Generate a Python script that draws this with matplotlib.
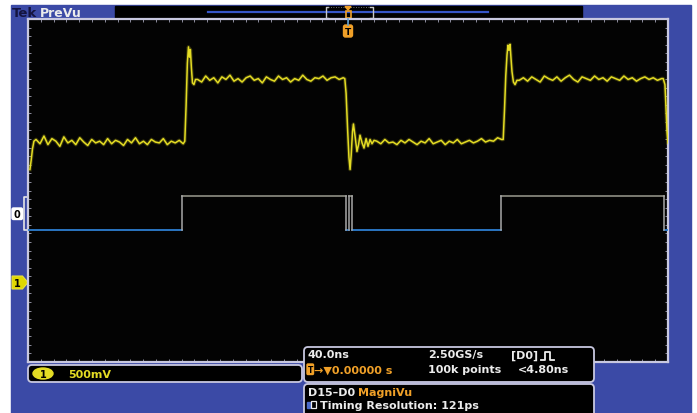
import numpy as np
import matplotlib
matplotlib.use("Agg")
import matplotlib.pyplot as plt
from matplotlib.patches import Rectangle, FancyBboxPatch, Polygon, Ellipse

# ---------------- data ----------------
# Channel 1 analog trace (time in ns, voltage in V)
ch1_start_t = [-198.8, -198.0, -197.2, -196.3]
ch1_start_v = [1.31, 1.42, 1.55, 1.64]
ch1_low1_span = (-195.0, -103.0)
ch1_low1_v = [1.66, 1.61, 1.70, 1.60, 1.67, 1.64, 1.58, 1.69, 1.62, 1.65, 1.60, 1.68, 1.63,
              1.59, 1.66, 1.62, 1.64, 1.60, 1.67, 1.61, 1.65, 1.63, 1.59, 1.66, 1.62, 1.68,
              1.61, 1.64, 1.60, 1.66, 1.63, 1.62, 1.67, 1.60, 1.64, 1.62, 1.65, 1.61]
ch1_rise1_t = [-102.0, -101.2, -100.4, -99.7, -99.1, -98.5, -97.9, -97.2, -96.3, -95.3]
ch1_rise1_v = [1.64, 2.05, 2.55, 2.74, 2.62, 2.71, 2.50, 2.32, 2.30, 2.36]
ch1_high1_span = (-94.0, -3.0)
ch1_high1_v = [2.36, 2.33, 2.40, 2.35, 2.38, 2.32, 2.39, 2.36, 2.41, 2.34, 2.37, 2.33, 2.38,
               2.40, 2.35, 2.37, 2.32, 2.39, 2.36, 2.34, 2.40, 2.36, 2.38, 2.33, 2.37, 2.35,
               2.41, 2.36, 2.34, 2.38, 2.37, 2.40, 2.35, 2.38, 2.39, 2.36, 2.38]
ch1_fall1_t = [-2.0, -1.2, -0.3, 0.6, 1.3, 2.0, 2.8, 3.4, 4.4, 5.6, 6.6, 7.5, 8.8, 10.0,
               11.3, 12.5, 13.8, 15.0, 16.3]
ch1_fall1_v = [2.37, 2.20, 1.80, 1.45, 1.31, 1.48, 1.75, 1.84, 1.70, 1.52, 1.60, 1.71, 1.62,
               1.56, 1.67, 1.58, 1.66, 1.61, 1.65]
ch1_low2_span = (18.0, 96.0)
ch1_low2_v = [1.64, 1.61, 1.66, 1.62, 1.63, 1.60, 1.65, 1.62, 1.66, 1.63, 1.60, 1.64, 1.62,
              1.67, 1.61, 1.63, 1.65, 1.60, 1.64, 1.62, 1.66, 1.61, 1.63, 1.65, 1.62, 1.64,
              1.67, 1.63, 1.65, 1.64, 1.68, 1.66]
ch1_rise2_t = [97.0, 97.8, 98.6, 99.4, 100.0, 100.6, 101.3, 101.9, 102.5, 103.4, 104.4, 105.6]
ch1_rise2_v = [1.66, 2.00, 2.40, 2.65, 2.76, 2.70, 2.77, 2.60, 2.45, 2.33, 2.30, 2.35]
ch1_high2_span = (107.0, 196.0)
ch1_high2_v = [2.35, 2.38, 2.34, 2.39, 2.36, 2.33, 2.40, 2.37, 2.35, 2.39, 2.34, 2.38, 2.41,
               2.36, 2.33, 2.39, 2.37, 2.35, 2.40, 2.36, 2.38, 2.34, 2.39, 2.37, 2.35, 2.40,
               2.36, 2.38, 2.34, 2.37, 2.39, 2.36, 2.38, 2.35, 2.37]
ch1_fall2_t = [197.0, 198.1, 198.8, 199.4, 200.0]
ch1_fall2_v = [2.37, 2.30, 2.00, 1.75, 1.62]

# Digital D0 trace: transition times (ns) and logic levels
d0_edges = [-200.0, -103.75, -1.25, 0.6, 2.5, 95.6, 197.5, 200.0]
d0_levels = [0, 1, 0, 1, 0, 1, 0]

# Scope settings
ns_per_div = 40.0
volts_per_div = 0.5
ch1_offset_div = -2.13
d0_low_div, d0_high_div = -0.92, -0.13

# Readout texts
ch1_scale = "500mV"
readout_row1 = ["40.0ns", "2.50GS/s", "[D0]"]
readout_row2 = ["→▼0.00000 s", "100k points", "<4.80ns"]

# ---------------- figure ----------------
W, H = 697, 414
fig = plt.figure(figsize=(W / 100, H / 100), dpi=100)
fig.patch.set_facecolor("white")


def overlay(z):
    a = fig.add_axes([0, 0, 1, 1])
    a.set_xlim(0, W)
    a.set_ylim(H, 0)
    a.axis("off")
    a.patch.set_alpha(0)
    a.set_zorder(z)
    return a


bg = overlay(0)

BLUE = "#3b4aa6"
WHITE = "#ececec"
ORANGE = "#f0a028"
YELLOW = "#e4dc24"
BORDER = "#c8c8e0"

bg.add_patch(Rectangle((11, 6), 680, 408, color=BLUE, zorder=0))

# header
bg.text(11.5, 13.5, "Tek", color="#141440", fontsize=9.5, fontweight="bold", va="center", ha="left")
bg.text(40, 13.5, "PreVu", color=WHITE, fontsize=9, fontweight="bold", va="center", ha="left")
bg.add_patch(Rectangle((115, 7), 467, 12.5, color="black", zorder=1))
bg.plot([208, 488], [12.8, 12.8], color="#3555c8", lw=1.6, zorder=2)
bg.plot([328, 325.5, 325.5, 328], [8, 8, 19, 19], color="#c8c8c8", lw=1, zorder=3)
bg.plot([370, 372.5, 372.5, 370], [8, 8, 19, 19], color="#c8c8c8", lw=1, zorder=3)
bg.plot([328, 370], [8, 8], color="#909090", lw=0.6, ls=(0, (1, 2)), zorder=3)
# small trigger marker in header
bg.add_patch(Polygon([(345, 7.5), (351, 7.5), (348, 11)], closed=True, color=ORANGE, zorder=4))
bg.add_patch(Rectangle((345.5, 12), 5, 6.5, fill=False, edgecolor=ORANGE, lw=1.2, zorder=4))

# left markers
bg.add_patch(FancyBboxPatch((12, 209), 10.5, 11.5, boxstyle="round,pad=0,rounding_size=1.5",
                            facecolor="white", edgecolor="white", zorder=3))
bg.text(17.3, 215, "0", color="black", fontsize=7, fontweight="bold", ha="center", va="center", zorder=4)
bg.plot([27.5, 23.5, 23.5, 27.5], [198, 198, 231, 231], color="#e6e6e6", lw=1.2, zorder=3)
bg.add_patch(Polygon([(12, 277), (22.5, 277), (28, 283.5), (22.5, 290), (12, 290)], closed=True,
                     facecolor="#e0d800", edgecolor="#e8e040", lw=0.8, zorder=3))
bg.text(17.5, 283.8, "1", color="black", fontsize=7, fontweight="bold", ha="center", va="center", zorder=4)

# ---------------- main graticule ----------------
ax = fig.add_axes([28 / W, 1 - 363 / H, 640 / W, 343 / H])
ax.set_zorder(1)
ax.set_facecolor("#030303")
ax.set_xlim(-5 * ns_per_div, 5 * ns_per_div)
ax.set_ylim(-4, 4)
for s in ax.spines.values():
    s.set_color(BORDER)
    s.set_linewidth(1.6)
ax.set_xticks(np.arange(-200, 201, 8))
ax.set_yticks(np.arange(-4, 4.001, 0.2))
ax.tick_params(direction="in", length=2.4, width=0.7, color="#8c8c9c",
               top=True, right=True, labelbottom=False, labelleft=False)


def seg(span, vals):
    return np.linspace(span[0], span[1], len(vals)), np.array(vals)


parts_t = [np.array(ch1_start_t)]
parts_v = [np.array(ch1_start_v)]
for tt, vv in [seg(ch1_low1_span, ch1_low1_v), (np.array(ch1_rise1_t), np.array(ch1_rise1_v)),
               seg(ch1_high1_span, ch1_high1_v), (np.array(ch1_fall1_t), np.array(ch1_fall1_v)),
               seg(ch1_low2_span, ch1_low2_v), (np.array(ch1_rise2_t), np.array(ch1_rise2_v)),
               seg(ch1_high2_span, ch1_high2_v), (np.array(ch1_fall2_t), np.array(ch1_fall2_v))]:
    parts_t.append(tt)
    parts_v.append(vv)
t = np.concatenate(parts_t)
v = np.concatenate(parts_v)
ydiv = v / volts_per_div + ch1_offset_div
ax.plot(t, ydiv, color=YELLOW, lw=2.6, alpha=0.22, zorder=3)
ax.plot(t, ydiv, color=YELLOW, lw=1.1, zorder=4)

# digital D0
lvl_y = [d0_low_div, d0_high_div]
for i, lv in enumerate(d0_levels):
    col = "#2e7fd0" if lv == 0 else "#84847a"
    ax.plot([d0_edges[i], d0_edges[i + 1]], [lvl_y[lv], lvl_y[lv]], color=col, lw=1.3, zorder=3)
    if i > 0:
        ax.plot([d0_edges[i], d0_edges[i]], [d0_low_div, d0_high_div], color="#a8a8a8", lw=1.1, zorder=3)

# ---------------- foreground overlay ----------------
fg = overlay(2)

# trigger marker inside graticule
fg.add_patch(FancyBboxPatch((343.5, 26), 9, 12, boxstyle="round,pad=0,rounding_size=2",
                            color=ORANGE, zorder=5))
fg.text(348, 32.3, "T", color="black", fontsize=6.5, fontweight="bold", ha="center", va="center", zorder=6)
fg.plot([348, 348], [19.5, 26], color="#60a0d0", lw=1.2, zorder=5)


def rbox(x, y, w, h):
    fg.add_patch(FancyBboxPatch((x, y), w, h, boxstyle="round,pad=0,rounding_size=4",
                                facecolor="black", edgecolor=BORDER, lw=1.3, zorder=3))


rbox(28, 366, 274, 17)
fg.add_patch(Ellipse((43, 374.5), 20, 11, color=YELLOW, zorder=4))
fg.text(43, 374.8, "1", color="black", fontsize=7, fontweight="bold", ha="center", va="center", zorder=5)
fg.text(68, 375, ch1_scale, color=YELLOW, fontsize=8, fontweight="bold", ha="left", va="center", zorder=5)

rbox(304, 348, 290, 35)
rbox(304, 385, 290, 34)
fs = 8
fg.text(308, 355.5, readout_row1[0], color=WHITE, fontsize=fs, fontweight="bold", va="center", zorder=5)
fg.text(428, 355.5, readout_row1[1], color=WHITE, fontsize=fs, fontweight="bold", va="center", zorder=5)
fg.text(511, 355.5, readout_row1[2], color=WHITE, fontsize=fs, fontweight="bold", va="center", zorder=5)
fg.plot([541, 544.5, 544.5, 550, 550, 553.5], [361, 361, 352.5, 352.5, 361, 361], color=WHITE, lw=1.3, zorder=5)

fg.add_patch(FancyBboxPatch((307, 365), 6.5, 10.5, boxstyle="round,pad=0,rounding_size=1",
                            color=ORANGE, zorder=5))
fg.text(310.3, 370.3, "T", color="black", fontsize=5.5, fontweight="bold", ha="center", va="center", zorder=6)
fg.text(314, 370.5, readout_row2[0], color=ORANGE, fontsize=fs, fontweight="bold", va="center", zorder=5)
fg.text(428, 370.5, readout_row2[1], color=WHITE, fontsize=fs, fontweight="bold", va="center", zorder=5)
fg.text(518, 370.5, readout_row2[2], color=WHITE, fontsize=fs, fontweight="bold", va="center", zorder=5)

fg.text(308, 393, "D15–D0", color=WHITE, fontsize=fs, fontweight="bold", va="center", zorder=5)
fg.text(358, 393, "MagniVu", color=ORANGE, fontsize=fs, fontweight="bold", va="center", zorder=5)
fg.add_patch(Rectangle((307, 403), 3, 6, color="#4a6ac8", zorder=5))
fg.add_patch(Rectangle((311, 402), 5, 7, fill=False, edgecolor=WHITE, lw=0.9, zorder=5))
fg.text(320, 406.5, "Timing Resolution: 121ps", color=WHITE, fontsize=fs, fontweight="bold",
        va="center", zorder=5)

fig.savefig("out.png", dpi=100, facecolor="white")
